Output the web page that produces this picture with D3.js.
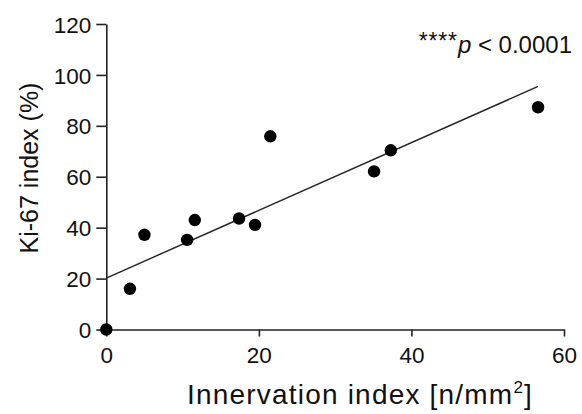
<!DOCTYPE html>
<html><head><meta charset="utf-8">
<script src="https://cdn.jsdelivr.net/npm/d3@7"></script>
<style>body{margin:0;background:#fff}svg{display:block}text{font-family:"Liberation Sans",Arial,sans-serif;fill:#111}</style>
</head><body>
<svg id="c" width="582" height="414"></svg>
<script>
const innervation = [0, 3.1, 5.0, 10.6, 11.6, 17.4, 19.5, 21.5, 35.1, 37.3, 56.6];
const ki67 = [0, 16.0, 37.2, 35.2, 43.0, 43.6, 41.1, 75.9, 62.1, 70.4, 87.3];
const xTicks = [0, 20, 40, 60];
const yTicks = [0, 20, 40, 60, 80, 100, 120];

const svg = d3.select("#c");
const x = d3.scaleLinear().domain([0, 60]).range([106.3, 564]);
const y = d3.scaleLinear().domain([0, 120]).range([329.5, 24]);

// least-squares regression line
const n = innervation.length;
const mx = d3.mean(innervation), my = d3.mean(ki67);
let sxy = 0, sxx = 0;
for (let i = 0; i < n; i++) { sxy += (innervation[i]-mx)*(ki67[i]-my); sxx += (innervation[i]-mx)**2; }
const slope = sxy/sxx, icpt = my - slope*mx;
const xmax = d3.max(innervation);

const xAxis = svg.append("g").attr("transform", `translate(0,${y(0)})`)
  .call(d3.axisBottom(x).tickValues(xTicks).tickSize(7).tickPadding(11).tickSizeOuter(0));
const yAxis = svg.append("g").attr("transform", `translate(${x(0)},0)`)
  .call(d3.axisLeft(y).tickValues(yTicks).tickSize(10).tickPadding(5).tickSizeOuter(0));
[xAxis, yAxis].forEach(g => {
  g.selectAll("path,line").attr("stroke", "#222").attr("stroke-width", 1.6);
  g.selectAll("text").style("font-size", "22.5px").attr("fill", "#111");
});
yAxis.selectAll("text").attr("dy", "0.36em");

svg.append("line")
  .attr("x1", x(0)).attr("y1", y(icpt))
  .attr("x2", x(xmax)).attr("y2", y(icpt + slope*xmax))
  .attr("stroke", "#222").attr("stroke-width", 1.4);

svg.append("g").selectAll("circle").data(innervation.map((v,i)=>[v, ki67[i]])).join("circle")
  .attr("cx", d => x(d[0])).attr("cy", d => y(d[1])).attr("r", 6.2).attr("fill", "#000");

const xl = svg.append("text").attr("x", 360).attr("y", 404).attr("text-anchor", "middle")
  .style("font-size", "28px").style("letter-spacing", "1.2px");
xl.append("tspan").text("Innervation index [n/mm");
xl.append("tspan").text("2").style("font-size", "17px").attr("dy", "-11");
xl.append("tspan").text("]").attr("dy", "11");

svg.append("text").attr("transform", "translate(38,168) rotate(-90)").attr("text-anchor", "middle")
  .style("font-size", "25px").text("Ki-67 index (%)");

const an = svg.append("text").attr("x", 572).attr("y", 53).attr("text-anchor", "end").style("font-size", "24px");
an.append("tspan").text("****").style("font-size", "23px").style("letter-spacing", "0.8px").attr("dy", "-4");
an.append("tspan").text("p").style("font-style", "italic").attr("dy", "4");
an.append("tspan").text(" < 0.0001");
</script>
</body></html>
